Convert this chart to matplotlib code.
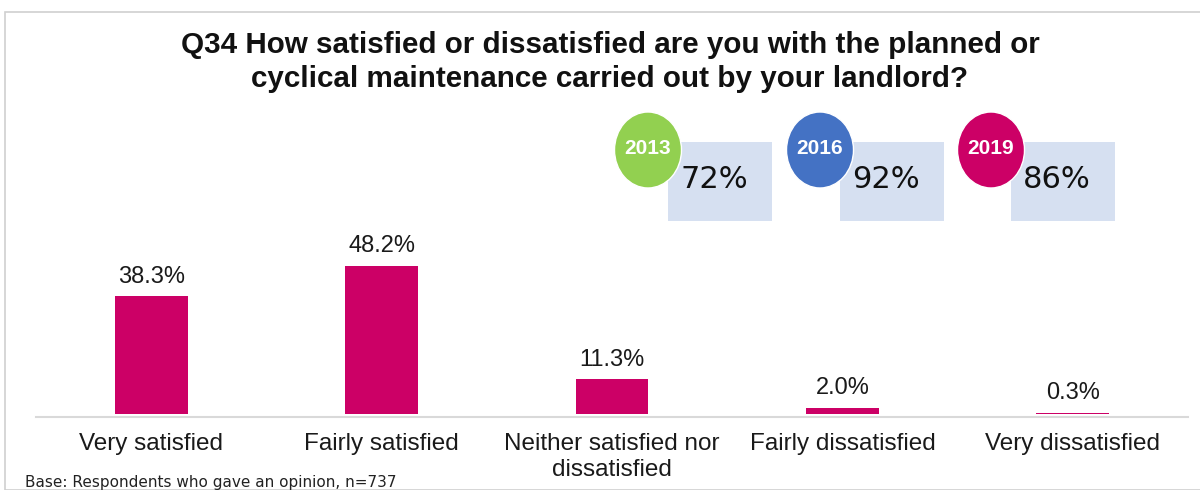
import matplotlib.pyplot as plt
from matplotlib.patches import Ellipse, Rectangle

# satisfaction results
categories = ["Very satisfied", "Fairly satisfied", "Neither satisfied nor\ndissatisfied",
              "Fairly dissatisfied", "Very dissatisfied"]
values = [38.3, 48.2, 11.3, 2.0, 0.3]

# overall satisfaction by survey year
years = ["2013", "2016", "2019"]
scores = ["72%", "92%", "86%"]
year_colours = ["#92D050", "#4472C4", "#CC0066"]

W, H = 1200, 490
fig = plt.figure(figsize=(12, 4.9), dpi=100)

def px(x, y):
    # pixel position (from top left) -> figure fraction
    return x / W, 1 - y / H

# frame round the slide
fig.add_artist(Rectangle(px(5, 490), 1.2, (490 - 12) / H, transform=fig.transFigure,
                         fill=False, edgecolor="#D0D0D0", linewidth=1.2))

ax = fig.add_axes([36 / W, 1 - 414 / H, 1152 / W, 214 / H])
for s in ["top", "right", "left"]:
    ax.spines[s].set_visible(False)
ax.spines["bottom"].set_position(("outward", 2))
ax.spines["bottom"].set_color("#D9D9D9")
ax.spines["bottom"].set_linewidth(1.5)

ax.bar(range(len(values)), values, width=0.316, color="#CC0066", zorder=3)
ax.set_xlim(-0.5, len(values) - 0.5)
ax.set_ylim(0, 214 / 3.07)
for i, v in enumerate(values):
    ax.text(i, v + 2.8, f"{v:.1f}%", ha="center", va="bottom", fontsize=17,
            family="Liberation Sans", color="#1a1a1a")
ax.set_xticks(range(len(values)))
ax.set_xticklabels(categories, fontsize=17.5, family="Liberation Sans", color="#1a1a1a",
                   linespacing=1.2)
ax.tick_params(axis="x", length=0, pad=12)
ax.set_yticks([])

fig.text(610 / W, 1 - 62 / H,
         "Q34 How satisfied or dissatisfied are you with the planned or\n"
         "cyclical maintenance carried out by your landlord?",
         ha="center", va="center", fontsize=21.3, fontweight="bold",
         family="Liberation Sans", linespacing=1.25, color="#111111")

# year badges
circle_x = [648, 820, 991]
for cx, yr, sc, col in zip(circle_x, years, scores, year_colours):
    rx, ry = px(cx + 20, 221)
    fig.add_artist(Rectangle((rx, ry), 104 / W, 79 / H, transform=fig.transFigure,
                             facecolor="#D6E0F1", edgecolor="none"))
    fig.add_artist(Ellipse(px(cx, 150), 67 / W, 76 / H, transform=fig.transFigure,
                           facecolor=col, edgecolor="white", linewidth=1))
    fig.text(*px(cx, 149), yr, ha="center", va="center", fontsize=15,
             fontweight="bold", color="white", family="Liberation Sans")
    fig.text(*px(cx + 66, 180), sc, ha="center", va="center", fontsize=22,
             color="#111111", family="DejaVu Sans")

fig.text(25 / W, 1 - 482 / H, "Base: Respondents who gave an opinion, n=737",
         ha="left", va="center", fontsize=11, family="DejaVu Sans", color="#222222")

fig.savefig("out.png", dpi=100)
